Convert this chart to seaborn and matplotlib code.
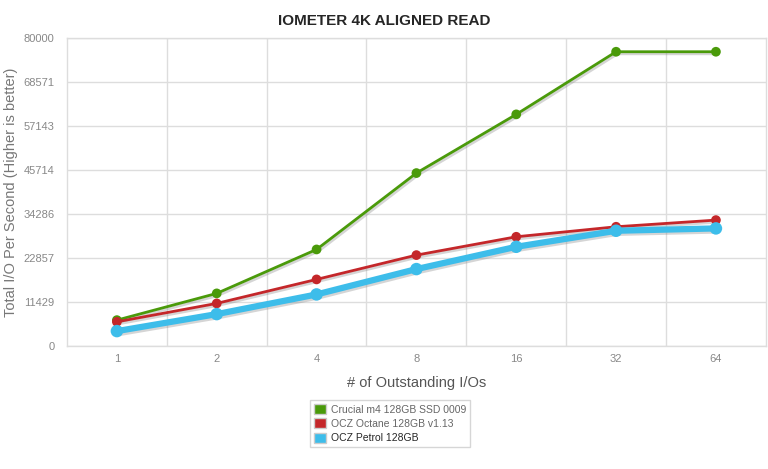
import numpy as np
import pandas as pd
import seaborn as sns
import matplotlib.pyplot as plt
import matplotlib.patheffects as pe
from matplotlib.patches import Patch

# values
queue_depths = ["1", "2", "4", "8", "16", "32", "64"]
crucial_m4 = [6750, 13690, 25100, 44930, 60170, 76430, 76430]
ocz_octane = [6310, 11090, 17320, 23630, 28390, 30990, 32720]
ocz_petrol = [3900, 8310, 13420, 20000, 25790, 29950, 30560]

series_names = ["Crucial m4 128GB SSD 0009", "OCZ Octane 128GB v1.13", "OCZ Petrol 128GB"]
series_values = [crucial_m4, ocz_octane, ocz_petrol]
colors = ["#4a9a0a", "#c4272a", "#3dbdea"]
line_widths = [2.0, 2.0, 4.5]
marker_sizes = [7, 7, 9]
y_ticks = [0, 11429, 22857, 34286, 45714, 57143, 68571, 80000]

rows = []
for name, vals in zip(series_names, series_values):
    for i, v in enumerate(vals):
        rows.append({"pos": i, "depth": queue_depths[i], "iops": v, "drive": name})
df = pd.DataFrame(rows)

sns.set_theme(style="white")
plt.rcParams['font.family'] = ['Liberation Sans', 'DejaVu Sans']

fig = plt.figure(figsize=(7.68, 4.69), dpi=100)
ax = fig.add_axes([0.0872, 0.262, 0.910, 0.657])

shadow = [pe.SimpleLineShadow(offset=(1, -1.5), shadow_color='#888888', alpha=0.35), pe.Normal()]
for name, col, lw, ms in zip(series_names, colors, line_widths, marker_sizes):
    sub = df[df["drive"] == name]
    sns.lineplot(data=sub, x="pos", y="iops", ax=ax, color=col, linewidth=lw,
                 marker="o", markersize=ms, markeredgewidth=0, legend=False,
                 path_effects=shadow)

ax.set_xlim(-0.5, len(queue_depths) - 0.5)
ax.set_ylim(0, 80000)
ax.set_xticks(range(len(queue_depths)))
ax.set_xticklabels(queue_depths)
ax.set_xticks(np.arange(0.5, len(queue_depths) - 1, 1), minor=True)
ax.set_yticks(y_ticks)
ax.set_yticklabels([str(t) for t in y_ticks])
ax.tick_params(axis='both', which='major', labelsize=8, labelcolor='#888888', length=0)
ax.tick_params(axis='y', which='major', pad=9)
ax.tick_params(axis='x', which='major', pad=6)
ax.tick_params(axis='x', which='minor', length=0)

ax.grid(False)
ax.yaxis.grid(True, which='major', color='#dddddd', linewidth=1)
ax.xaxis.grid(True, which='minor', color='#dddddd', linewidth=1)
for s in ax.spines.values():
    s.set_color('#dddddd')
    s.set_linewidth(1)

ax.set_xlabel("# of Outstanding I/Os", fontsize=10.5, color='#555555', labelpad=8)
ax.set_ylabel("Total I/O Per Second (Higher is better)", fontsize=10.5, color='#777777', labelpad=4)
fig.suptitle("IOMETER 4K ALIGNED READ", fontsize=11, fontweight='bold', x=0.5, y=0.97)

handles = [Patch(facecolor=c, edgecolor='#cccccc', label=n) for n, c in zip(series_names, colors)]
leg = fig.legend(handles=handles, loc='upper center', bbox_to_anchor=(0.508, 0.158),
                 fontsize=7.5, frameon=True, fancybox=False, handlelength=1.1, handleheight=1.1,
                 handletextpad=0.5, borderpad=0.4, labelspacing=0.35)
leg.get_frame().set_edgecolor('#cccccc')
leg.get_frame().set_linewidth(1)
for t in leg.get_texts()[:2]:
    t.set_color('#666666')

plt.savefig("out.png", dpi=100)
plt.close()
